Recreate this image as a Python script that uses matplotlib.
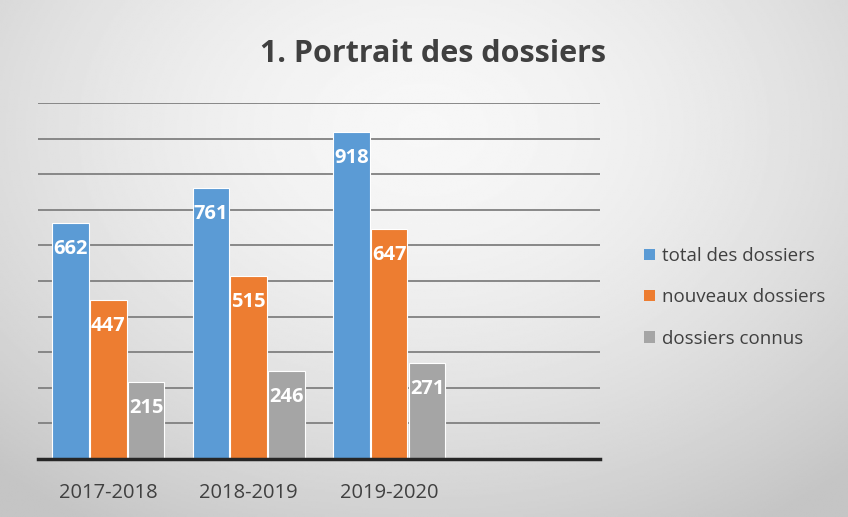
import numpy as np
import matplotlib
matplotlib.use("Agg")
import matplotlib.pyplot as plt
from matplotlib.patches import Patch

categories = ["2017-2018", "2018-2019", "2019-2020"]
series_names = ["total des dossiers", "nouveaux dossiers", "dossiers connus"]
total = [662, 761, 918]
nouveaux = [447, 515, 647]
connus = [215, 246, 271]
colors = ["#5b9bd5", "#ed7d31", "#a5a5a5"]

plt.rcParams["font.family"] = ["Open Sans", "DejaVu Sans"]

fig = plt.figure(figsize=(8.48, 5.17), dpi=100)

# gradient background
bg = fig.add_axes([0, 0, 1, 1], zorder=-10)
yy, xx = np.mgrid[0:1:300j, 0:1:500j]
r = np.sqrt(((xx - 0.5) / 0.75) ** 2 + ((yy - 0.25) / 0.9) ** 2)
shade = 0.97 - 0.2 * np.clip(r, 0, 1) ** 1.6
bg.imshow(shade, cmap="gray", vmin=0, vmax=1, aspect="auto", extent=[0, 1, 1, 0])
bg.axis("off")

ax = fig.add_axes([0.0448, 0.1122, 0.6627, 0.6886])
ax.set_facecolor("none")

x = np.arange(len(categories))
w = 0.26
for i, (vals, name) in enumerate(zip([total, nouveaux, connus], series_names)):
    pos = x + (i - 1) * (w + 0.01)
    bars = ax.bar(pos, vals, w, color=colors[i], edgecolor="white", linewidth=0.8,
                  label=name, zorder=3)
    for b, v in zip(bars, vals):
        ax.annotate(str(v), (b.get_x() + b.get_width() / 2, v), xytext=(0, -26),
                    textcoords="offset pixels",
                    ha="center", va="center", color="white", fontsize=14.5,
                    fontweight="bold", zorder=4)

ax.set_xlim(-0.5, 3.5)
ax.set_ylim(0, 1000)
ax.set_yticks(np.arange(0, 1001, 100))
ax.yaxis.grid(True, color="#808080", linewidth=1.3, zorder=0)
ax.tick_params(axis="y", left=False, labelleft=False)
ax.set_xticks(x)
ax.set_xticklabels(categories, fontsize=14.5, color="#404040")
ax.tick_params(axis="x", length=0, pad=17)
for s in ["top", "right", "left"]:
    ax.spines[s].set_visible(False)
ax.spines["bottom"].set_color("#262626")
ax.spines["bottom"].set_linewidth(2.5)
ax.spines["bottom"].set_zorder(5)

fig.text(0.511, 0.896, "1. Portrait des dossiers", ha="center", va="center",
         fontsize=22, fontweight="bold", color="#404040")

handles = [Patch(facecolor=c, label=n) for c, n in zip(colors, series_names)]
fig.legend(handles=handles, loc="center left", bbox_to_anchor=(0.74, 0.425),
           frameon=False, fontsize=13.5, labelcolor="#404040",
           handlelength=0.55, handleheight=0.55, handletextpad=0.4,
           labelspacing=1.25)

fig.savefig("out.png", dpi=100)
